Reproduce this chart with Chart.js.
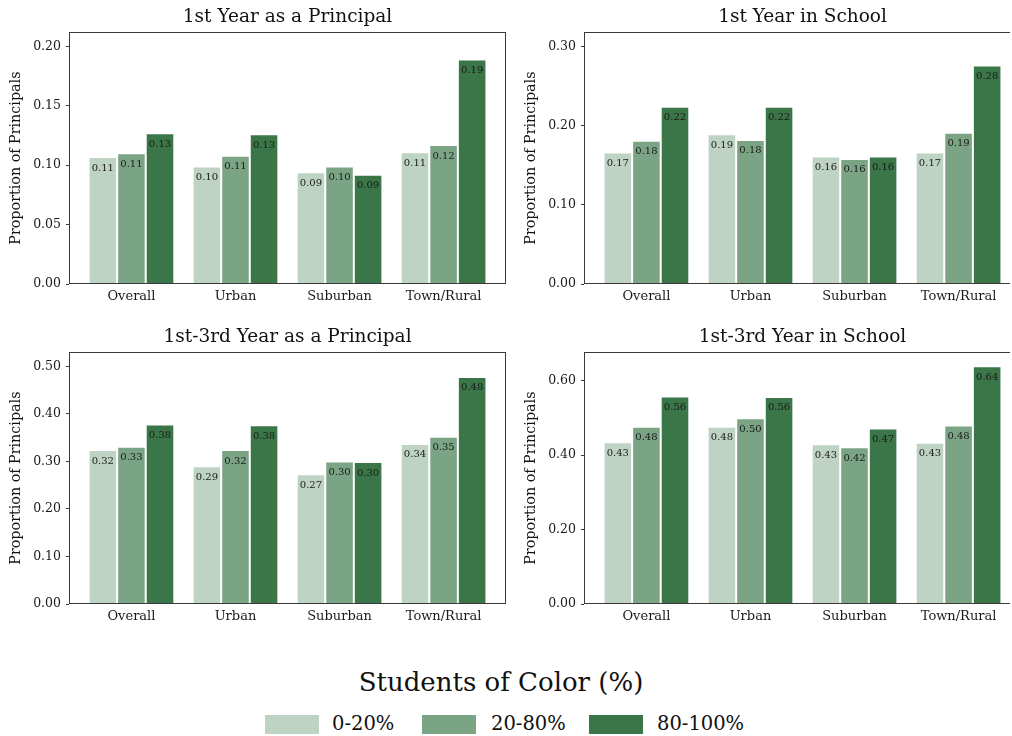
<!DOCTYPE html>
<html>
<head>
<meta charset="utf-8">
<script src="https://cdn.jsdelivr.net/npm/chart.js@4.4.1/dist/chart.umd.min.js"></script>
<style>
  html, body { margin: 0; padding: 0; background: #fff; overflow: hidden; }
  body { width: 1010px; height: 736px; position: relative; font-family: 'DejaVu Serif', serif; color: #111; }
  canvas { position: absolute; }
  #legendTitle { position: absolute; left: 0; width: 1002px; top: 667px; text-align: center; font-size: 26px; line-height: 30px; }
  .key { position: absolute; top: 715px; width: 54px; height: 19px; }
  .keyLabel { position: absolute; top: 714px; font-size: 19.5px; line-height: 20px; white-space: nowrap; }
</style>
</head>
<body>
<canvas id="p1" width="510" height="310" style="left:0;top:0"></canvas>
<canvas id="p2" width="510" height="310" style="left:515px;top:0"></canvas>
<canvas id="p3" width="510" height="310" style="left:0;top:320px"></canvas>
<canvas id="p4" width="510" height="310" style="left:515px;top:320px"></canvas>
<div id="legendTitle">Students of Color (%)</div>
<div id="legend"></div>
<script>
// categories and groups
const categories = ['Overall', 'Urban', 'Suburban', 'Town/Rural'];
const groups = ['0-20%', '20-80%', '80-100%'];
const colors = ['#bed3c4', '#7ba485', '#3b7648'];

// proportions, one row per group (0-20, 20-80, 80-100)
const firstYearPrincipal = [
  [0.107, 0.099, 0.094, 0.111],
  [0.110, 0.108, 0.099, 0.117],
  [0.127, 0.126, 0.092, 0.189]
];
const firstYearSchool = [
  [0.166, 0.189, 0.161, 0.166],
  [0.181, 0.182, 0.158, 0.191],
  [0.224, 0.224, 0.161, 0.276]
];
const firstThreePrincipal = [
  [0.324, 0.290, 0.273, 0.337],
  [0.331, 0.324, 0.300, 0.352],
  [0.378, 0.376, 0.299, 0.478]
];
const firstThreeSchool = [
  [0.434, 0.476, 0.429, 0.433],
  [0.476, 0.499, 0.421, 0.479],
  [0.557, 0.556, 0.471, 0.638]
];

// y tick labels per panel
const ticks1 = [0, 0.05, 0.10, 0.15, 0.20];
const ticks2 = [0, 0.10, 0.20, 0.30];
const ticks3 = [0, 0.10, 0.20, 0.30, 0.40, 0.50];
const ticks4 = [0, 0.20, 0.40, 0.60];

Chart.defaults.font.family = "'DejaVu Serif', serif";
Chart.defaults.color = '#1a1a1a';

// box round the plot area
const frame = {
  id: 'frame',
  afterDatasetsDraw(chart) {
    const { ctx, chartArea: a } = chart;
    ctx.save();
    ctx.strokeStyle = '#3a3a3a';
    ctx.lineWidth = 1;
    const l = Math.round(a.left) + 0.5, t = Math.round(a.top) + 0.5;
    const r = Math.round(a.right) - 0.5, b = Math.round(a.bottom) - 0.5;
    ctx.strokeRect(l, t, r - l, b - t);
    ctx.restore();
  }
};

// value printed just inside the top of each bar
const barValues = {
  id: 'barValues',
  afterDatasetsDraw(chart) {
    const ctx = chart.ctx;
    ctx.save();
    ctx.font = "10px 'DejaVu Serif'";
    ctx.fillStyle = '#1a1a1a';
    ctx.textAlign = 'center';
    ctx.textBaseline = 'middle';
    chart.data.datasets.forEach((ds, i) => {
      chart.getDatasetMeta(i).data.forEach((bar, j) => {
        ctx.fillText(ds.data[j].y.toFixed(2), bar.x, bar.y + 11);
      });
    });
    ctx.restore();
  }
};

function makePanel(id, title, series, yMax, yTicks) {
  const ctx = document.getElementById(id).getContext('2d');
  return new Chart(ctx, {
    type: 'bar',
    data: {
      datasets: series.map((vals, g) => ({
        label: groups[g],
        data: vals.map((v, i) => ({ x: i + 1, y: v })),
        backgroundColor: colors[g],
        borderColor: 'rgba(255,255,255,0.85)',
        borderWidth: 1,
        categoryPercentage: 0.824,
        barPercentage: 1
      }))
    },
    options: {
      responsive: false,
      animation: false,
      layout: { padding: { left: 0, right: 4, top: 0, bottom: 0 } },
      plugins: {
        legend: { display: false },
        tooltip: { enabled: false },
        title: {
          display: true, text: title, fullSize: false, color: '#111',
          font: { size: 18.5, weight: 'normal' }, padding: { top: 6, bottom: 4 }
        }
      },
      scales: {
        x: {
          type: 'linear', min: 0.4, max: 4.6, offset: false,
          afterBuildTicks: s => { s.ticks = categories.map((c, i) => ({ value: i + 1 })); },
          afterFit: s => { s.height = 26; },
          ticks: { callback: v => categories[v - 1], font: { size: 13 }, padding: 5, autoSkip: false, maxRotation: 0 },
          grid: { display: false, drawTicks: false },
          border: { display: false }
        },
        y: {
          min: 0, max: yMax,
          afterBuildTicks: s => { s.ticks = yTicks.map(v => ({ value: v })); },
          afterFit: s => { s.width = 69; },
          ticks: { callback: v => v.toFixed(2), font: { size: 12.5 }, padding: 5 },
          grid: { display: true, drawOnChartArea: false, tickLength: 3, color: '#3a3a3a' },
          border: { display: false },
          title: { display: true, text: 'Proportion of Principals', font: { size: 14.3 }, padding: { top: 8, bottom: 0 }, color: '#111' }
        }
      }
    },
    plugins: [frame, barValues]
  });
}

makePanel('p1', '1st Year as a Principal', firstYearPrincipal, 0.212, ticks1);
makePanel('p2', '1st Year in School', firstYearSchool, 0.318, ticks2);
makePanel('p3', '1st-3rd Year as a Principal', firstThreePrincipal, 0.53, ticks3);
makePanel('p4', '1st-3rd Year in School', firstThreeSchool, 0.676, ticks4);

// legend built from groups/colors
const keyLeft = [265, 422, 589];
const labelLeft = [332, 491, 657];
const legend = document.getElementById('legend');
groups.forEach((g, i) => {
  const box = document.createElement('div');
  box.className = 'key';
  box.style.left = keyLeft[i] + 'px';
  box.style.background = colors[i];
  legend.appendChild(box);
  const lab = document.createElement('div');
  lab.className = 'keyLabel';
  lab.style.left = labelLeft[i] + 'px';
  lab.textContent = g;
  legend.appendChild(lab);
});
</script>
</body>
</html>
